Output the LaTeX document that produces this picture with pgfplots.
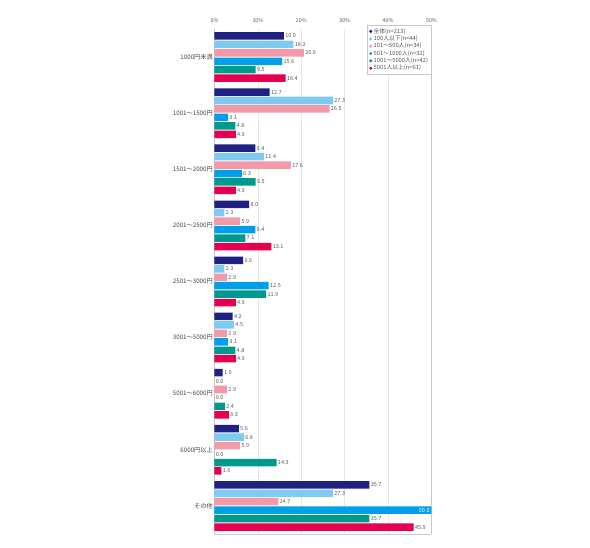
\documentclass[border=0pt]{standalone}
\usepackage{pgfplots}
\pgfplotsset{compat=1.18}
\usepackage{pgfplotstable}
\usepackage{fontspec}
\setmainfont{Noto Sans CJK JP}
\definecolor{c1}{HTML}{1E2082}
\definecolor{c2}{HTML}{7FCAF0}
\definecolor{c3}{HTML}{F29AA8}
\definecolor{c4}{HTML}{00A0E9}
\definecolor{c5}{HTML}{00998C}
\definecolor{c6}{HTML}{E5004F}
\definecolor{labcol}{HTML}{555555}
\definecolor{catcol}{HTML}{444444}
\definecolor{gridcol}{HTML}{E6E6E6}
\definecolor{bordcol}{HTML}{C8C8C8}

\pgfplotstableread{
cat s1 s2 s3 s4 s5 s6 dx tc
0 16.0 18.2 20.6 15.6 9.5 16.4 0 0
1 12.7 27.3 26.5 3.1 4.8 4.9 0 0
2 9.4 11.4 17.6 6.3 9.5 4.9 0 0
3 8.0 2.3 5.9 9.4 7.1 13.1 0 0
4 6.6 2.3 2.9 12.5 11.9 4.9 0 0
5 4.2 4.5 2.9 3.1 4.8 4.9 0 0
6 1.9 0.0 2.9 0.0 2.4 3.3 0 0
7 5.6 6.8 5.9 0.0 14.3 1.6 0 0
8 35.7 27.3 14.7 50.0 35.7 45.9 -14 100
}\data

\begin{document}
\begin{tikzpicture}[x=1pt,y=1pt]
\path[use as bounding box] (-214.5pt,-14pt) rectangle (375.5pt,534pt);
\begin{axis}[
  at={(0pt,0pt)}, anchor=south west,
  scale only axis, width=217pt, height=505pt,
  xbar, bar width=0.134,
  xmin=0, xmax=50,
  ymin=-0.5, ymax=8.5, y dir=reverse,
  axis line style={draw=none},
  xtick={10,20,30,40},
  xticklabel pos=upper,
  xticklabel={\pgfmathprintnumber{\tick}\%},
  extra x ticks={0,50},
  extra x tick labels={0\%,50\%},
  extra x tick style={major grid style={draw=bordcol, line width=0.6pt}},
  extra y ticks={8.5},
  extra y tick labels={},
  extra y tick style={grid=major, major grid style={draw=bordcol, line width=0.6pt}},
  xmajorgrids,
  major grid style={draw=gridcol, line width=0.5pt},
  major tick length=0pt,
  /pgf/number format/assume math mode=true,
  tick label style={font=\fontsize{5.3}{6}\selectfont, text=labcol},
  xticklabel style={yshift=3pt},
  ytick={0,...,8},
  yticklabels={1000円未満,1001～1500円,1501～2000円,2001～2500円,2501～3000円,3001～5000円,5001～6000円,6000円以上,その他},
  yticklabel style={font=\fontsize{6.2}{7}\selectfont, text=catcol, inner sep=1.5pt},
  point meta=x,
  nodes near coords={\pgfmathprintnumber[fixed,fixed zerofill,precision=1]{\pgfplotspointmeta}},
  every node near coord/.append style={font=\fontsize{5.5}{6}\selectfont, text=labcol, inner sep=1.2pt},
  legend style={at={(1,1.008)}, anchor=north east, draw=bordcol, fill=white,
    font=\fontsize{5.8}{6}\selectfont, text=labcol, row sep=0pt, inner xsep=2pt, inner ysep=2.5pt,
    nodes={inner xsep=1.2pt, inner ysep=0.55pt}},
  legend cell align=left,
  legend image code/.code={\fill[#1,draw=none] (2.5pt,0pt) circle (1.7pt);},
]
\addplot[fill=c1, draw=none, bar shift=-0.3765] table[x=s1,y=cat]{\data};
\addplot[fill=c2, draw=none, bar shift=-0.2259] table[x=s2,y=cat]{\data};
\addplot[fill=c3, draw=none, bar shift=-0.0753] table[x=s3,y=cat]{\data};
\addplot[fill=c4, draw=none, bar shift=0.0753,
  visualization depends on={\thisrow{dx} \as \dx},
  visualization depends on={\thisrow{tc} \as \tc},
  every node near coord/.append style={xshift=\dx pt, text=white!\tc!labcol}] table[x=s4,y=cat]{\data};
\addplot[fill=c5, draw=none, bar shift=0.2259] table[x=s5,y=cat]{\data};
\addplot[fill=c6, draw=none, bar shift=0.3765] table[x=s6,y=cat]{\data};
\legend{全体(n=213),100人以下(n=44),101～500人(n=34),501～1000人(n=32),1001～5000人(n=42),5001人以上(n=61)}
\end{axis}
\end{tikzpicture}
\end{document}
